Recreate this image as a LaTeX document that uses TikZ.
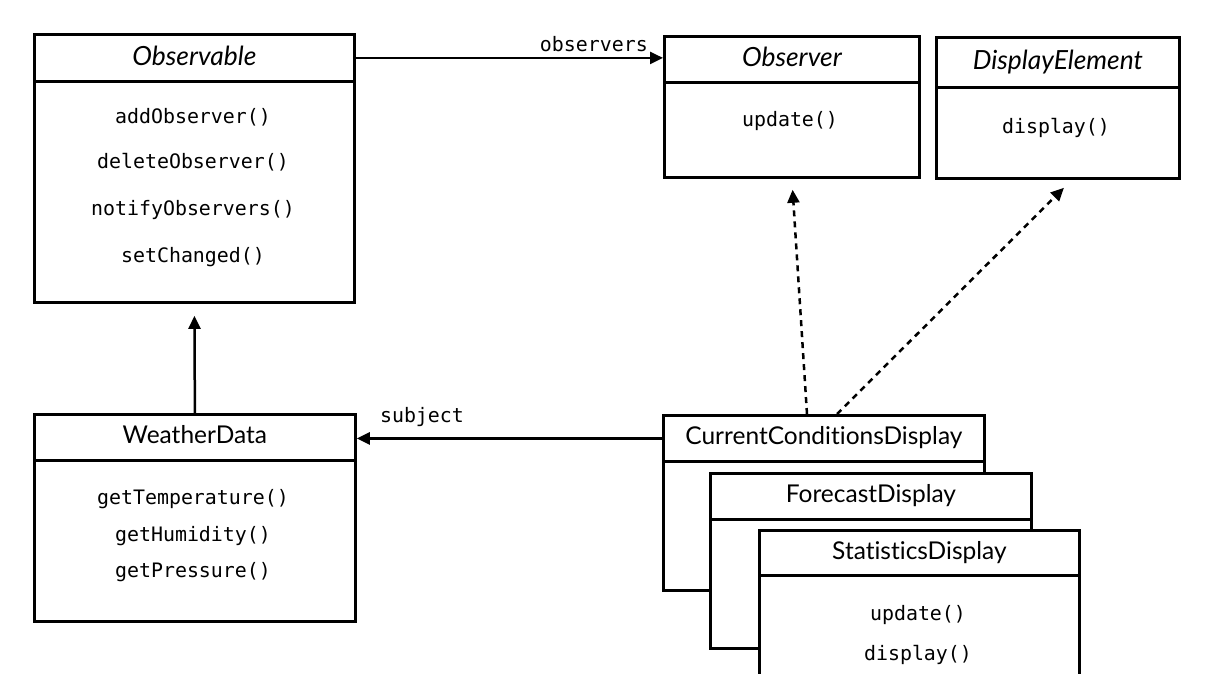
\documentclass[tikz,border=0pt]{standalone}
\usepackage{fontspec}
\setmainfont[Ligatures=NoCommon]{Lato}
\newfontfamily\codefont{DejaVu Sans Mono}
\usetikzlibrary{arrows.meta,calc}

\begin{document}
\begin{tikzpicture}[x=1pt,y=-1pt,
  box/.style={draw, line width=2.8pt, fill=white, rectangle, inner sep=0pt, anchor=north west},
  head/.style={box, font=\fontsize{24.5}{28}\selectfont, text height=17.6pt, text depth=4.5pt},
  ihead/.style={box, font=\fontsize{26.4}{30}\selectfont\itshape, text height=19pt, text depth=4.5pt},
  method/.style={font=\codefont\fontsize{19.9}{23}\selectfont, inner sep=0pt, text height=14pt, text depth=4pt},
  label/.style={font=\codefont\fontsize{19.9}{23}\selectfont, inner sep=0pt},
  assoc/.style={line width=2.5pt, -{Triangle[length=13pt,width=12pt]}},
  realize/.style={assoc, dash pattern=on 6pt off 5pt},
]
\useasboundingbox (0,0) rectangle (1232,673);
\fill[white] (0,0) rectangle (1232,673);
\clip (0,0) rectangle (1232,673);

% Observable
\node[box, minimum width=320pt, minimum height=221pt] (obsB) at (33,80) {};
\node[ihead, minimum width=320pt, minimum height=47pt] (obsH) at (33,33) {Observable};
\node[method] (m1) at (193,118) {addObserver()};
\node[method] (m2) at (193,163) {deleteObserver()};
\node[method] (m3) at (193,210) {notifyObservers()};
\node[method] (m4) at (193,257) {setChanged()};

% Observer
\node[box, minimum width=255pt, minimum height=95pt] (obrB) at (663,81) {};
\node[ihead, minimum width=255pt, minimum height=46pt] (obrH) at (663,35) {Observer};
\node[method] (m5) at (790,121) {update()};

% DisplayElement
\node[box, minimum width=243pt, minimum height=91pt] (deB) at (935,86) {};
\node[ihead, minimum width=243pt, minimum height=50pt] (deH) at (935,36) {DisplayElement};
\node[method] (m6) at (1056,128) {display()};

% WeatherData
\node[box, minimum width=321pt, minimum height=161pt] (wdB) at (33,459) {};
\node[head, minimum width=321pt, minimum height=46pt] (wdH) at (33,413) {WeatherData};
\node[method] (m7) at (193,499) {getTemperature()};
\node[method] (m8) at (193,536) {getHumidity()};
\node[method] (m9) at (193,572) {getPressure()};

% Display classes, stacked
\node[box, minimum width=321pt, minimum height=129pt] (ccB) at (662,460) {};
\node[head, minimum width=321pt, minimum height=46pt] (ccH) at (662,414) {CurrentConditionsDisplay};
\node[box, minimum width=321pt, minimum height=129pt] (fcB) at (709,518) {};
\node[head, minimum width=321pt, minimum height=46pt] (fcH) at (709,472) {ForecastDisplay};
\node[box, minimum width=320pt, minimum height=140pt] (stB) at (758,574) {};
\node[head, minimum width=320pt, minimum height=45pt] (stH) at (758,529) {StatisticsDisplay};
\node[method] (m10) at (918,615) {update()};
\node[method] (m11) at (918,655) {display()};

% Connectors
\draw[assoc] (obsH.east) -- (obsH.east -| obrH.west)
  node[label, anchor=base east, pos=1, xshift=-14pt, yshift=6pt] (lobs) {observers};
\draw[assoc, shorten >=12pt] (wdH.north) -- (obsB.south);
\draw[assoc] (ccH.west) -- (ccH.west -| wdH.east)
  node[label, anchor=base west, pos=1, xshift=22pt, yshift=16pt] (lsub) {subject};
\draw[realize, shorten >=11pt] ($(ccH.north west)+(145,0)$) -- (obrB.south);
\draw[realize] ($(ccH.north west)+(175,0)$) -- ($(deB.south)+(6,8)$);
\end{tikzpicture}
\end{document}
